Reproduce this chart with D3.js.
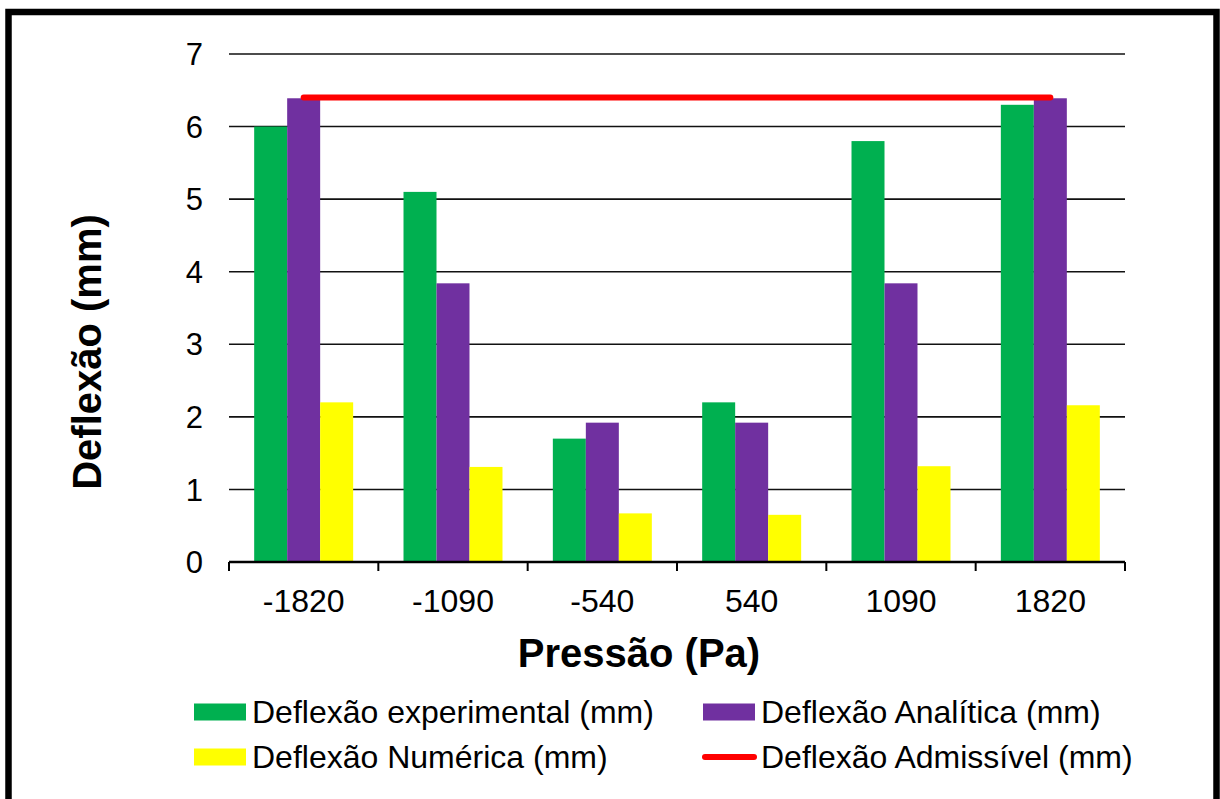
<!DOCTYPE html>
<html>
<head>
<meta charset="utf-8">
<script src="https://cdn.jsdelivr.net/npm/d3@7"></script>
<style>
  body { margin: 0; background: #fff; }
  svg { display: block; font-family: "Liberation Sans", Arial, sans-serif; }
</style>
</head>
<body>
<div id="chart"></div>
<script>
// data
var categories = ["-1820", "-1090", "-540", "540", "1090", "1820"];
var experimental = [6.0, 5.1, 1.7, 2.2, 5.8, 6.3];
var analitica = [6.39, 3.84, 1.92, 1.92, 3.84, 6.39];
var numerica = [2.2, 1.31, 0.67, 0.65, 1.32, 2.16];
var admissivel = [6.4, 6.4, 6.4, 6.4, 6.4, 6.4];
var yTicks = [0, 1, 2, 3, 4, 5, 6, 7];

var barSeries = [
  {name : "Deflexão experimental (mm)", values : experimental, color : "#00B050"},
  {name : "Deflexão Analítica (mm)", values : analitica, color : "#7030A0"},
  {name : "Deflexão Numérica (mm)", values : numerica, color : "#FFFF00"}
];
var lineSeries = {name : "Deflexão Admissível (mm)", values : admissivel, color : "#FF0000"};

var param = {
  width : 1220,
  height : 799,
  left : 229,
  right : 1125,
  top : 54,
  bottom : 562
};

var svg = d3.select("#chart")
            .append("svg")
            .attr("width", param.width)
            .attr("height", param.height);

// outer frame (bottom edge falls outside the picture)
svg.append("rect")
   .attr("x", 8.5)
   .attr("y", 12)
   .attr("width", 1208)
   .attr("height", 820)
   .style("fill", "none")
   .style("stroke", "black")
   .style("stroke-width", 6.5);

var x0 = d3.scaleBand()
           .domain(categories)
           .range([param.left, param.right])
           .padding(0);

var x1 = d3.scaleBand()
           .domain(barSeries.map(function(s) {return s.name}))
           .range([0, x0.bandwidth()])
           .paddingInner(0)
           .paddingOuter(0.763);

var y = d3.scaleLinear()
          .domain([0, 7])
          .range([param.bottom, param.top]);

// gridlines
svg.append("g")
   .selectAll("line")
   .data(yTicks.slice(1))
   .enter()
   .append("line")
   .attr("x1", param.left)
   .attr("x2", param.right)
   .attr("y1", function(d) {return y(d)})
   .attr("y2", function(d) {return y(d)})
   .style("stroke", "#111")
   .style("stroke-width", 1.6);

// y tick labels
svg.append("g")
   .selectAll("text")
   .data(yTicks)
   .enter()
   .append("text")
   .attr("x", 203)
   .attr("y", function(d) {return y(d)})
   .attr("dy", "0.36em")
   .style("text-anchor", "end")
   .style("font-size", "31px")
   .text(function(d) {return d});

// bars
var groups = svg.append("g")
                .selectAll("g")
                .data(categories)
                .enter()
                .append("g")
                .attr("transform", function(d) {return "translate(" + x0(d) + ",0)"});

groups.selectAll("rect")
      .data(function(d, i) {
        return barSeries.map(function(s) {return {name : s.name, value : s.values[i], color : s.color}});
      })
      .enter()
      .append("rect")
      .attr("x", function(d) {return x1(d.name)})
      .attr("width", x1.bandwidth())
      .attr("y", function(d) {return y(d.value)})
      .attr("height", function(d) {return y(0) - y(d.value)})
      .style("fill", function(d) {return d.color});

// x axis
var xAxis = d3.axisBottom(x0).tickSize(0).tickPadding(0);
var axisG = svg.append("g")
               .attr("transform", "translate(0," + y(0) + ")")
               .call(xAxis);
axisG.select(".domain").remove();
axisG.selectAll("text")
     .attr("y", 50)
     .attr("dy", 0)
     .style("font-size", "32px")
     .style("font-family", "Liberation Sans, Arial, sans-serif")
     .style("fill", "black");

svg.append("line")
   .attr("x1", param.left)
   .attr("x2", param.right)
   .attr("y1", y(0))
   .attr("y2", y(0))
   .style("stroke", "black")
   .style("stroke-width", 2.5);

var boundaries = categories.map(function(c) {return x0(c)}).concat([x0(categories[categories.length - 1]) + x0.bandwidth()]);
svg.append("g")
   .selectAll("line")
   .data(boundaries)
   .enter()
   .append("line")
   .attr("x1", function(d) {return d})
   .attr("x2", function(d) {return d})
   .attr("y1", y(0))
   .attr("y2", y(0) + 9)
   .style("stroke", "black")
   .style("stroke-width", 2);

// admissible line
var line = d3.line()
             .x(function(d, i) {return x0(categories[i]) + x0.bandwidth() / 2})
             .y(function(d) {return y(d)});

svg.append("path")
   .datum(lineSeries.values)
   .attr("d", line)
   .style("fill", "none")
   .style("stroke", lineSeries.color)
   .style("stroke-width", 6)
   .style("stroke-linecap", "round");

// axis titles
svg.append("text")
   .attr("x", 639)
   .attr("y", 667)
   .style("text-anchor", "middle")
   .style("font-size", "40px")
   .style("font-weight", "bold")
   .text("Pressão (Pa)");

svg.append("text")
   .attr("transform", "translate(101,352) rotate(-90)")
   .style("text-anchor", "middle")
   .style("font-size", "40px")
   .style("font-weight", "bold")
   .text("Deflexão (mm)");

// legend
var legendItems = [
  {name : barSeries[0].name, color : barSeries[0].color, type : "rect", x : 194, y : 712},
  {name : barSeries[1].name, color : barSeries[1].color, type : "rect", x : 703, y : 712},
  {name : barSeries[2].name, color : barSeries[2].color, type : "rect", x : 194, y : 757},
  {name : lineSeries.name, color : lineSeries.color, type : "line", x : 703, y : 757}
];

var legend = svg.append("g")
                .selectAll("g")
                .data(legendItems)
                .enter()
                .append("g")
                .attr("transform", function(d) {return "translate(" + d.x + "," + d.y + ")"});

legend.filter(function(d) {return d.type == "rect"})
      .append("rect")
      .attr("x", 0)
      .attr("y", -8.5)
      .attr("width", 52)
      .attr("height", 17)
      .style("fill", function(d) {return d.color});

legend.filter(function(d) {return d.type == "line"})
      .append("line")
      .attr("x1", 2)
      .attr("x2", 51)
      .attr("y1", 0)
      .attr("y2", 0)
      .style("stroke", function(d) {return d.color})
      .style("stroke-width", 6)
      .style("stroke-linecap", "round");

legend.append("text")
      .attr("x", 58)
      .attr("y", 10.5)
      .style("font-size", "32px")
      .text(function(d) {return d.name});
</script>
</body>
</html>
